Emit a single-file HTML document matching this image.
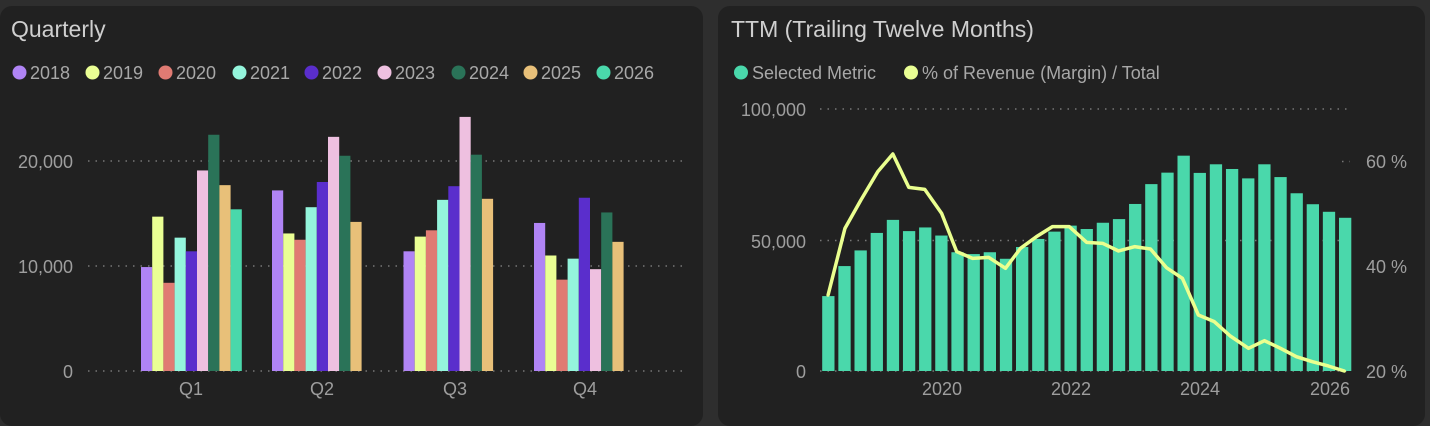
<!DOCTYPE html>
<html><head><meta charset="utf-8"><style>
body{margin:0;background:#2e2e2e;width:1430px;height:414px;overflow:hidden;font-family:"Liberation Sans",sans-serif}
.p{position:absolute;background:#212121;border-radius:12px}
svg{position:absolute;left:0;top:0}
</style></head><body>
<div class="p" style="left:0;top:6px;width:703px;height:420px"></div>
<div class="p" style="left:718px;top:6px;width:707px;height:420px"></div>
<svg width="1430" height="414" xmlns="http://www.w3.org/2000/svg" font-family="Liberation Sans, sans-serif">
<g fill="#cfcfcf" font-size="23"><text x="11" y="37">Quarterly</text><text x="731" y="37">TTM (Trailing Twelve Months)</text></g>
<g font-size="18" fill="#a8a8a8">
<circle cx="19.5" cy="72.5" r="7" fill="#b084f5"/><text x="30" y="79">2018</text>
<circle cx="92.5" cy="72.5" r="7" fill="#eaff94"/><text x="103" y="79">2019</text>
<circle cx="165.5" cy="72.5" r="7" fill="#e07b73"/><text x="176" y="79">2020</text>
<circle cx="239.5" cy="72.5" r="7" fill="#94f5dc"/><text x="250" y="79">2021</text>
<circle cx="311.5" cy="72.5" r="7" fill="#5a2ecc"/><text x="322" y="79">2022</text>
<circle cx="384.5" cy="72.5" r="7" fill="#eec0e0"/><text x="395" y="79">2023</text>
<circle cx="458.5" cy="72.5" r="7" fill="#2a7358"/><text x="469" y="79">2024</text>
<circle cx="530.5" cy="72.5" r="7" fill="#e8c079"/><text x="541" y="79">2025</text>
<circle cx="603.5" cy="72.5" r="7" fill="#4ad8ab"/><text x="614" y="79">2026</text>
<circle cx="741" cy="72.5" r="7" fill="#4ad8ab"/><text x="752" y="79">Selected Metric</text>
<circle cx="911" cy="72.5" r="7" fill="#eaff94"/><text x="922" y="79">% of Revenue (Margin) / Total</text>
</g>
<g stroke="#777" stroke-dasharray="1.5 6" stroke-width="1.5">
<line x1="88" y1="161" x2="686" y2="161"/><line x1="88" y1="266" x2="686" y2="266"/><line x1="88" y1="371" x2="686" y2="371"/>
<line x1="820" y1="109" x2="1350" y2="109"/><line x1="820" y1="240.5" x2="1350" y2="240.5"/><line x1="820" y1="371" x2="1350" y2="371"/>
<line x1="1342" y1="161.5" x2="1350" y2="161.5"/>
</g>
<g fill="#9e9e9e" font-size="18">
<g text-anchor="end"><text x="73" y="168">20,000</text><text x="73" y="273">10,000</text><text x="73" y="378">0</text>
<text x="806" y="116">100,000</text><text x="806" y="248">50,000</text><text x="806" y="378">0</text></g>
<g text-anchor="middle"><text x="191" y="395">Q1</text><text x="322" y="395">Q2</text><text x="455" y="395">Q3</text><text x="585" y="395">Q4</text>
<text x="942" y="395">2020</text><text x="1071" y="395">2022</text><text x="1200" y="395">2024</text><text x="1330" y="395">2026</text></g>
<text x="1366" y="168">60 %</text><text x="1366" y="273">40 %</text><text x="1366" y="378">20 %</text>
</g>
<g transform="translate(0,371) scale(1,-10.5)">
<rect x="141" width="11.2" height="9.9" fill="#b084f5"/><rect x="152.2" width="11.2" height="14.7" fill="#eaff94"/><rect x="163.4" width="11.2" height="8.4" fill="#e07b73"/><rect x="174.6" width="11.2" height="12.7" fill="#94f5dc"/><rect x="185.8" width="11.2" height="11.4" fill="#5a2ecc"/><rect x="197" width="11.2" height="19.1" fill="#eec0e0"/><rect x="208.2" width="11.2" height="22.5" fill="#2a7358"/><rect x="219.4" width="11.2" height="17.7" fill="#e8c079"/><rect x="230.6" width="11.2" height="15.4" fill="#4ad8ab"/>
<rect x="272" width="11.2" height="17.2" fill="#b084f5"/><rect x="283.2" width="11.2" height="13.1" fill="#eaff94"/><rect x="294.4" width="11.2" height="12.5" fill="#e07b73"/><rect x="305.6" width="11.2" height="15.6" fill="#94f5dc"/><rect x="316.8" width="11.2" height="18.0" fill="#5a2ecc"/><rect x="328" width="11.2" height="22.3" fill="#eec0e0"/><rect x="339.2" width="11.2" height="20.5" fill="#2a7358"/><rect x="350.4" width="11.2" height="14.2" fill="#e8c079"/>
<rect x="403.5" width="11.2" height="11.4" fill="#b084f5"/><rect x="414.7" width="11.2" height="12.8" fill="#eaff94"/><rect x="425.9" width="11.2" height="13.4" fill="#e07b73"/><rect x="437.1" width="11.2" height="16.3" fill="#94f5dc"/><rect x="448.3" width="11.2" height="17.6" fill="#5a2ecc"/><rect x="459.5" width="11.2" height="24.2" fill="#eec0e0"/><rect x="470.7" width="11.2" height="20.6" fill="#2a7358"/><rect x="481.9" width="11.2" height="16.4" fill="#e8c079"/>
<rect x="534" width="11.2" height="14.1" fill="#b084f5"/><rect x="545.2" width="11.2" height="11.0" fill="#eaff94"/><rect x="556.4" width="11.2" height="8.7" fill="#e07b73"/><rect x="567.6" width="11.2" height="10.7" fill="#94f5dc"/><rect x="578.8" width="11.2" height="16.5" fill="#5a2ecc"/><rect x="590" width="11.2" height="9.7" fill="#eec0e0"/><rect x="601.2" width="11.2" height="15.1" fill="#2a7358"/><rect x="612.4" width="11.2" height="12.3" fill="#e8c079"/>
</g>
<g transform="translate(0,371) scale(1,-2.61)" fill="#4ad8ab">
<rect x="822.2" width="12.3" height="28.7"/><rect x="838.35" width="12.3" height="40.2"/><rect x="854.5" width="12.3" height="46.2"/><rect x="870.65" width="12.3" height="52.9"/><rect x="886.8" width="12.3" height="57.9"/><rect x="902.95" width="12.3" height="53.6"/><rect x="919.1" width="12.3" height="55.0"/><rect x="935.25" width="12.3" height="51.9"/><rect x="951.4" width="12.3" height="45.5"/><rect x="967.55" width="12.3" height="44.8"/><rect x="983.7" width="12.3" height="45.5"/><rect x="999.85" width="12.3" height="43.0"/><rect x="1016" width="12.3" height="47.5"/><rect x="1032.15" width="12.3" height="50.6"/><rect x="1048.3" width="12.3" height="53.4"/><rect x="1064.45" width="12.3" height="55.7"/><rect x="1080.6" width="12.3" height="54.4"/><rect x="1096.75" width="12.3" height="56.8"/><rect x="1112.9" width="12.3" height="58.2"/><rect x="1129.05" width="12.3" height="64.0"/><rect x="1145.2" width="12.3" height="71.6"/><rect x="1161.35" width="12.3" height="76.0"/><rect x="1177.5" width="12.3" height="82.5"/><rect x="1193.65" width="12.3" height="75.9"/><rect x="1209.8" width="12.3" height="79.2"/><rect x="1225.95" width="12.3" height="77.4"/><rect x="1242.1" width="12.3" height="73.8"/><rect x="1258.25" width="12.3" height="79.2"/><rect x="1274.4" width="12.3" height="74.3"/><rect x="1290.55" width="12.3" height="68.1"/><rect x="1306.7" width="12.3" height="63.9"/><rect x="1322.85" width="12.3" height="61.0"/><rect x="1339" width="12.3" height="58.7"/>
</g>
<g transform="translate(715,90) scale(0.456,0.33333)">
<polyline vector-effect="non-scaling-stroke" fill="none" stroke="#eaff8f" stroke-width="3.5" stroke-linejoin="round" stroke-linecap="round" points="248,615 285,415 320,330 357,245 390,192 425,292 460,298 497,370 530,485 565,505 600,502 637,535 670,475 705,440 740,410 777,410 815,457 850,460 885,483 920,470 955,477 990,533 1025,565 1060,675 1095,695 1130,738 1170,775 1205,752 1240,775 1275,800 1310,815 1345,828 1380,843"/>
</g>
</svg>
</body></html>
